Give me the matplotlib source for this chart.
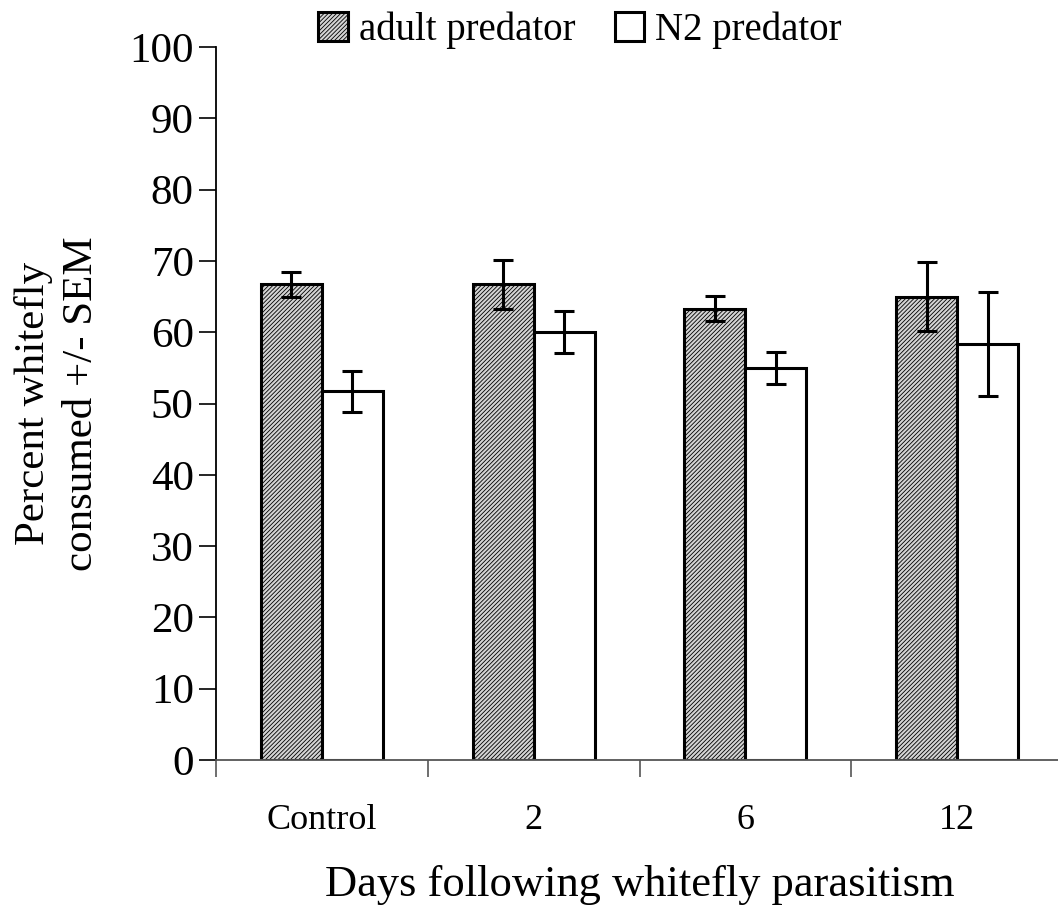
import matplotlib.pyplot as plt
import numpy as np

days = ['Control', '2', '6', '12']
adult = [66.7, 66.7, 63.3, 65.0]
adult_sem = [1.7, 3.45, 1.75, 4.9]
n2 = [51.7, 60.0, 55.0, 58.3]
n2_sem = [2.9, 2.95, 2.25, 7.3]

plt.rcParams['font.family'] = ['Liberation Serif', 'DejaVu Serif']
plt.rcParams['hatch.linewidth'] = 0.6
plt.rcParams['hatch.color'] = '#404040'

fig = plt.figure(figsize=(10.58, 9.07), dpi=100)
ax = fig.add_axes([216/1058, 147/907, 847/1058, 713/907])

x = np.arange(len(days))
w = 0.288
err_kw = dict(ecolor='black', elinewidth=2.2, capsize=7.5, capthick=2.2)
ax.bar(x - w/2, adult, w, yerr=adult_sem, facecolor='#d4d4d4', edgecolor='black',
       linewidth=2.2, hatch='////////', label='adult predator', error_kw=err_kw)
ax.bar(x + w/2, n2, w, yerr=n2_sem, facecolor='white', edgecolor='black',
       linewidth=2.2, label='N2 predator', error_kw=err_kw)

ax.set_xlim(-0.5, 3.5)
ax.set_ylim(0, 100)
ax.set_yticks(range(0, 101, 10))
ax.set_xticks(np.arange(-0.5, 3.6, 1))
ax.set_xticklabels([])
ax.set_xticks(x, minor=True)
ax.set_xticklabels(days, minor=True, fontsize=26)
ax.tick_params(axis='x', which='minor', length=0, pad=32)
ax.tick_params(axis='x', which='major', direction='out', length=12, width=1.2, color='#555555')
ax.tick_params(axis='y', direction='out', length=12, width=1.2, labelsize=31, pad=4)

for s in ['top', 'right']:
    ax.spines[s].set_visible(False)
ax.spines['left'].set_linewidth(1.3)
ax.spines['bottom'].set_linewidth(1.3)
ax.spines['bottom'].set_color('#555555')

ax.set_xlabel('Days following whitefly parasitism', fontsize=32, labelpad=20)
ax.set_ylabel('Percent whitefly\nconsumed +/- SEM', fontsize=31, labelpad=20, linespacing=1.35)

ax.legend(loc='lower center', bbox_to_anchor=(0.43, 0.975), ncol=2, frameon=False,
          fontsize=28, handlelength=0.75, handleheight=0.75, handletextpad=0.3,
          columnspacing=1.0, borderaxespad=0)

fig.savefig('out.png', dpi=100)
